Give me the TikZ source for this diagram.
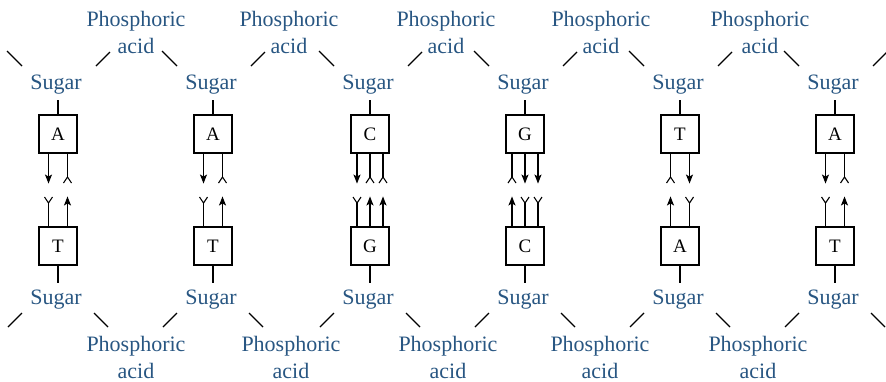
\documentclass[tikz,border=0pt]{standalone}
\usepackage{fontspec}
\setmainfont{Liberation Serif}
\usetikzlibrary{arrows.meta}
\definecolor{lab}{RGB}{40,86,130}
\begin{document}
\begin{tikzpicture}[x=1pt,y=-1pt,line width=1.1pt,
  lbl/.style={text=lab,font=\fontsize{22}{27}\selectfont,inner sep=0pt,align=center},
  basebox/.style={draw,minimum width=38pt,minimum height=38pt,inner sep=0pt,font=\fontsize{19}{22}\selectfont},
  don/.style={-{Stealth[length=9pt,width=7pt,inset=2pt]}},
  acc/.style={-{Straight Barb[reversed,length=6pt,width=8pt]}},
  slant/.style={draw=black,line width=1.1pt}]
\useasboundingbox (0,0) rectangle (886,381);
\foreach \i/\c/\tl/\bl in {1/58/A/T,2/213/A/T,3/370/C/G,4/525/G/C,5/680/T/A,6/835/A/T}{
  \node[lbl,anchor=base] (st\i) at (\c-2,89) {Sugar};
  \node[basebox] (bt\i) at (\c,134) {\tl};
  \node[basebox] (bb\i) at (\c,246) {\bl};
  \node[lbl,anchor=base] (sb\i) at (\c-2,304) {Sugar};
  \draw[shorten >=6pt] (bt\i.north) -- (bt\i.north |- st\i.south);
  \draw[shorten >=6pt] (bb\i.south) -- (bb\i.south |- sb\i.north);
  \draw[slant] (\c-51,51) -- (\c-36,66);
  \draw[slant] (\c+38,66) -- (\c+52,52);
  \draw[slant] (\c-50,327) -- (\c-36,313);
  \draw[slant] (\c+36,313) -- (\c+50,327);
}
\foreach \j/\xt/\xb in {1/136/136,2/289/291,3/446/448,4/601/600,5/760/758}{
  \node[lbl,anchor=base] (pt\j) at (\xt,53) {Phosphoric\\acid};
  \node[lbl,anchor=base] (pb\j) at (\xb,378) {Phosphoric\\acid};
}
% A-T pairs (columns 1,2,6)
\foreach \i in {1,2,6}{
  \draw[don] ([xshift=-9.5pt]bt\i.south) -- ++(0,30);
  \draw[acc] ([xshift=9.5pt]bt\i.south) -- ++(0,30);
  \draw[acc] ([xshift=-9.5pt]bb\i.north) -- ++(0,-30);
  \draw[don] ([xshift=9.5pt]bb\i.north) -- ++(0,-30);
}
% C-G
\draw[don] ([xshift=-13pt]bt3.south) -- ++(0,30);
\draw[acc] (bt3.south) -- ++(0,30);
\draw[acc] ([xshift=13pt]bt3.south) -- ++(0,30);
\draw[acc] ([xshift=-13pt]bb3.north) -- ++(0,-30);
\draw[don] (bb3.north) -- ++(0,-30);
\draw[don] ([xshift=13pt]bb3.north) -- ++(0,-30);
% G-C
\draw[acc] ([xshift=-13pt]bt4.south) -- ++(0,30);
\draw[don] (bt4.south) -- ++(0,30);
\draw[don] ([xshift=13pt]bt4.south) -- ++(0,30);
\draw[don] ([xshift=-13pt]bb4.north) -- ++(0,-30);
\draw[acc] (bb4.north) -- ++(0,-30);
\draw[acc] ([xshift=13pt]bb4.north) -- ++(0,-30);
% T-A
\draw[acc] ([xshift=-9.5pt]bt5.south) -- ++(0,30);
\draw[don] ([xshift=9.5pt]bt5.south) -- ++(0,30);
\draw[don] ([xshift=-9.5pt]bb5.north) -- ++(0,-30);
\draw[acc] ([xshift=9.5pt]bb5.north) -- ++(0,-30);
\end{tikzpicture}
\end{document}
